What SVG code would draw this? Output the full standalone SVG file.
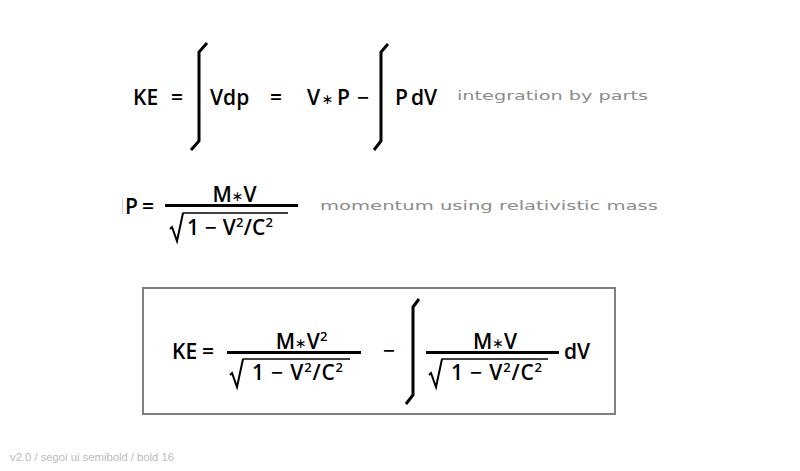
<svg xmlns="http://www.w3.org/2000/svg" width="800" height="471" viewBox="0 0 800 471">
<style>
.m{font-family:"Open Sans","Noto Sans","DejaVu Sans",sans-serif;font-weight:600;font-size:21px;fill:#000}
.ast{font-family:"DejaVu Sans",sans-serif;font-weight:normal;font-size:14px}
.sup{font-size:13px}
.int{fill:none;stroke:#000;stroke-width:3;stroke-linejoin:miter}
.bar{stroke:#000;stroke-width:3}
.rad{fill:none;stroke:#000;stroke-width:2;stroke-linejoin:miter}
.ov{stroke:#000;stroke-width:1.5}
.note{font-family:"DejaVu Sans",sans-serif;font-size:13px;fill:#8c8c8c}
</style>
<rect width="800" height="471" fill="#fff"/>

<g id="row1">
  <text class="m" x="133" y="105">KE</text>
  <text class="m" x="177" y="105" text-anchor="middle">=</text>
  <polyline class="int" points="207,43 199,52 199,141 191,150"/>
  <text class="m" x="210" y="105">Vdp</text>
  <text class="m" x="276" y="105" text-anchor="middle">=</text>
  <text class="m" x="307" y="105">V</text>
  <text class="m" x="327.5" y="104" text-anchor="middle"><tspan class="ast">∗</tspan></text>
  <text class="m" x="337" y="105">P</text>
  <text class="m" x="363" y="105" text-anchor="middle">−</text>
  <polyline class="int" points="388,44 381,52 381,141 374,150"/>
  <text class="m" x="395" y="105">P</text>
  <text class="m" x="411" y="105">dV</text>
  <text class="note" x="457" y="100" textLength="191" lengthAdjust="spacingAndGlyphs">integration by parts</text>
</g>

<g id="row2">
  <line x1="122.5" y1="199" x2="122.5" y2="214" stroke="#cccccc" stroke-width="1"/>
  <text class="m" x="125" y="214">P</text>
  <text class="m" x="148" y="214" text-anchor="middle">=</text>
  <text class="m" x="234.5" y="201.5" text-anchor="middle">M<tspan class="ast" dy="-1">∗</tspan><tspan dy="1">V</tspan></text>
  <line class="bar" x1="165" y1="205.5" x2="298" y2="205.5"/>
  <polyline class="rad" points="170,229 172,227 177,241 183,213"/>
  <line class="ov" x1="182.5" y1="213" x2="288" y2="213"/>
  <text class="m" x="187" y="235" textLength="86" lengthAdjust="spacing">1 − V<tspan class="sup" baseline-shift="8">2</tspan>/C<tspan class="sup" baseline-shift="8">2</tspan></text>
  <text class="note" x="320" y="210" textLength="338" lengthAdjust="spacingAndGlyphs">momentum using relativistic mass</text>
</g>

<g id="result">
  <rect x="143" y="288" width="472" height="126" fill="#fff" stroke="#808080" stroke-width="2"/>
  <text class="m" x="172" y="359">KE</text>
  <text class="m" x="208" y="359" text-anchor="middle">=</text>
  <text class="m" x="301.5" y="348.5" text-anchor="middle">M<tspan class="ast" dy="-1">∗</tspan><tspan dy="1">V</tspan><tspan class="sup" baseline-shift="8">2</tspan></text>
  <line class="bar" x1="227" y1="352.5" x2="361" y2="352.5"/>
  <polyline class="rad" points="230,375 232,373 237,387 243,359"/>
  <line class="ov" x1="242.5" y1="359" x2="350" y2="359"/>
  <text class="m" x="252" y="380" textLength="91" lengthAdjust="spacing">1 − V<tspan class="sup" baseline-shift="8">2</tspan>/C<tspan class="sup" baseline-shift="8">2</tspan></text>
  <text class="m" x="389" y="358" text-anchor="middle">−</text>
  <polyline class="int" points="419,299 413,307 413,395 406,404"/>
  <text class="m" x="495" y="348.5" text-anchor="middle">M<tspan class="ast" dy="-1">∗</tspan><tspan dy="1">V</tspan></text>
  <line class="bar" x1="426" y1="352.5" x2="559" y2="352.5"/>
  <polyline class="rad" points="429,375 431,373 436,387 442,359"/>
  <line class="ov" x1="441.5" y1="359" x2="548" y2="359"/>
  <text class="m" x="451" y="380" textLength="91" lengthAdjust="spacing">1 − V<tspan class="sup" baseline-shift="8">2</tspan>/C<tspan class="sup" baseline-shift="8">2</tspan></text>
  <text class="m" x="564" y="359">dV</text>
</g>

<text x="10" y="461" font-family="Liberation Sans, sans-serif" font-size="11" fill="#bbbbbb" textLength="164" lengthAdjust="spacingAndGlyphs">v2.0 / segoi ui semibold / bold 16</text>
</svg>
